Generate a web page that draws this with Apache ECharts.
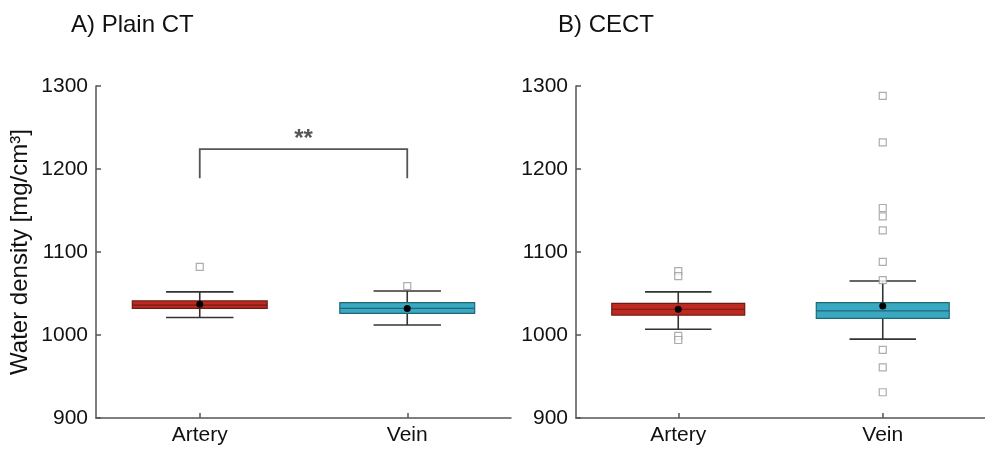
<!DOCTYPE html>
<html>
<head>
<meta charset="utf-8">
<script src="https://cdn.jsdelivr.net/npm/echarts@6/dist/echarts.min.js"></script>
<style>html,body{margin:0;padding:0;background:#fff;}#c{width:985px;height:451px;}</style>
</head>
<body>
<div id="c"></div>
<script>
const categories = ['Artery', 'Vein'];
const yTicks = [900, 1000, 1100, 1200, 1300];

// A) Plain CT
const plainQ1 = [1032, 1026];
const plainMedian = [1036, 1032];
const plainQ3 = [1041, 1039];
const plainWhiskerLow = [1021, 1012];
const plainWhiskerHigh = [1052, 1053];
const plainMean = [1037, 1032];
const plainOutliersArtery = [1082];
const plainOutliersVein = [1059];

// B) CECT
const cectQ1 = [1024, 1020];
const cectMedian = [1031, 1029];
const cectQ3 = [1038, 1039];
const cectWhiskerLow = [1007, 995];
const cectWhiskerHigh = [1052, 1065];
const cectMean = [1031, 1035];
const cectOutliersArtery = [1077, 1071, 999, 994];
const cectOutliersVein = [1288, 1232, 1153, 1143, 1126, 1088, 1066, 982, 961, 931];

// significance bracket (Plain CT)
const bracketCats = [0, 1];
const bracketTop = 1224;
const bracketFoot = 1189;
const bracketLabel = '**';

const fills = ['#bf2a20', '#3ba8c1'];
const edges = ['#6e1a14', '#1f6878'];

function boxData(q1, med, q3, lo, hi, mean) {
  return categories.map((c, i) => [i, q1[i], med[i], q3[i], lo[i], hi[i], mean[i]]);
}
function outlierData(art, vein) {
  return art.map(v => [0, v]).concat(vein.map(v => [1, v]));
}

function renderBox(params, api) {
  const i = api.value(0);
  const q1 = api.value(1), med = api.value(2), q3 = api.value(3);
  const lo = api.value(4), hi = api.value(5), mean = api.value(6);
  const band = api.size([1, 0])[0];
  const boxW = band * 0.65;
  const capW = boxW * 0.5;
  const pQ1 = api.coord([i, q1]), pQ3 = api.coord([i, q3]), pMed = api.coord([i, med]);
  const pLo = api.coord([i, lo]), pHi = api.coord([i, hi]), pMean = api.coord([i, mean]);
  const x = pQ1[0];
  const lineStyle = { stroke: '#333', lineWidth: 1.6 };
  return {
    type: 'group',
    children: [
      { type: 'line', shape: { x1: x, y1: pLo[1], x2: x, y2: pHi[1] }, style: lineStyle },
      { type: 'line', shape: { x1: x - capW / 2, y1: pLo[1], x2: x + capW / 2, y2: pLo[1] }, style: lineStyle },
      { type: 'line', shape: { x1: x - capW / 2, y1: pHi[1], x2: x + capW / 2, y2: pHi[1] }, style: lineStyle },
      { type: 'rect', shape: { x: x - boxW / 2, y: pQ3[1], width: boxW, height: pQ1[1] - pQ3[1] },
        style: { fill: fills[i], stroke: edges[i], lineWidth: 1.2 } },
      { type: 'line', shape: { x1: x - boxW / 2, y1: pMed[1], x2: x + boxW / 2, y2: pMed[1] },
        style: { stroke: edges[i], lineWidth: 1.2 } },
      { type: 'circle', shape: { cx: x, cy: pMean[1], r: 3.5 }, style: { fill: '#000' } }
    ]
  };
}

function renderBracket(params, api) {
  const a = api.coord([api.value(0), api.value(2)]);
  const b = api.coord([api.value(1), api.value(2)]);
  const fa = api.coord([api.value(0), api.value(3)]);
  const fb = api.coord([api.value(1), api.value(3)]);
  return {
    type: 'group',
    children: [
      { type: 'polyline', shape: { points: [[fa[0], fa[1]], [a[0], a[1]], [b[0], b[1]], [fb[0], fb[1]]] },
        style: { stroke: '#555', lineWidth: 1.8, fill: null } },
      { type: 'text', x: (a[0] + b[0]) / 2, y: a[1] + 2,
        style: { text: bracketLabel, fill: '#555', font: 'bold 24px "Liberation Sans", Arial, sans-serif',
                 align: 'center', verticalAlign: 'bottom' } }
    ]
  };
}

const axisFont = '"Liberation Sans", Arial, sans-serif';

function yAxis(gridIndex, withName) {
  const ax = {
    type: 'value', gridIndex: gridIndex, min: yTicks[0], max: yTicks[yTicks.length - 1], interval: 100,
    axisLine: { show: true, lineStyle: { color: '#555', width: 1.5 } },
    axisTick: { show: true, inside: true, length: 5, lineStyle: { color: '#555', width: 1.5 } },
    axisLabel: { fontSize: 21, color: '#111', margin: 8, fontFamily: axisFont, formatter: v => String(v) },
    splitLine: { show: false }
  };
  if (withName) {
    Object.assign(ax, {
      name: 'Water density [mg/cm³]', nameLocation: 'middle', nameGap: 64, nameRotate: 90,
      nameTextStyle: { fontSize: 24, color: '#111', fontFamily: axisFont }
    });
  }
  return ax;
}
function xAxis(gridIndex) {
  return {
    type: 'category', gridIndex: gridIndex, data: categories, boundaryGap: true,
    axisLine: { show: true, lineStyle: { color: '#555', width: 1.5 } },
    axisTick: { show: true, inside: true, alignWithLabel: true, length: 5, lineStyle: { color: '#555', width: 1.5 } },
    axisLabel: { fontSize: 21, color: '#111', margin: 7, fontFamily: axisFont },
    splitLine: { show: false }
  };
}

const chart = echarts.init(document.getElementById('c'), null, { renderer: 'canvas' });
chart.setOption({
  animation: false,
  backgroundColor: '#fff',
  title: [
    { text: 'A) Plain CT', left: 66, top: 8, textStyle: { fontSize: 24, fontWeight: 'normal', color: '#111', fontFamily: axisFont } },
    { text: 'B) CECT', left: 553, top: 8, textStyle: { fontSize: 24, fontWeight: 'normal', color: '#111', fontFamily: axisFont } }
  ],
  grid: [
    { left: 96, top: 86, width: 415, height: 332 },
    { left: 576, top: 86, width: 412, height: 332 }
  ],
  xAxis: [xAxis(0), xAxis(1)],
  yAxis: [yAxis(0, true), yAxis(1, false)],
  series: [
    { type: 'custom', xAxisIndex: 0, yAxisIndex: 0, renderItem: renderBox,
      data: boxData(plainQ1, plainMedian, plainQ3, plainWhiskerLow, plainWhiskerHigh, plainMean),
      encode: { x: 0, y: [1, 2, 3, 4, 5, 6] }, z: 2 },
    { type: 'scatter', xAxisIndex: 0, yAxisIndex: 0, symbol: 'rect', symbolSize: 7,
      data: outlierData(plainOutliersArtery, plainOutliersVein),
      itemStyle: { color: '#fff', borderColor: '#999', borderWidth: 1.2 }, z: 3 },
    { type: 'custom', xAxisIndex: 0, yAxisIndex: 0, renderItem: renderBracket,
      data: [[bracketCats[0], bracketCats[1], bracketTop, bracketFoot]],
      encode: { x: [0, 1], y: [2, 3] }, z: 4 },
    { type: 'custom', xAxisIndex: 1, yAxisIndex: 1, renderItem: renderBox,
      data: boxData(cectQ1, cectMedian, cectQ3, cectWhiskerLow, cectWhiskerHigh, cectMean),
      encode: { x: 0, y: [1, 2, 3, 4, 5, 6] }, z: 2 },
    { type: 'scatter', xAxisIndex: 1, yAxisIndex: 1, symbol: 'rect', symbolSize: 7,
      data: outlierData(cectOutliersArtery, cectOutliersVein),
      itemStyle: { color: '#fff', borderColor: '#999', borderWidth: 1.2 }, z: 3 }
  ]
});
</script>
</body>
</html>
